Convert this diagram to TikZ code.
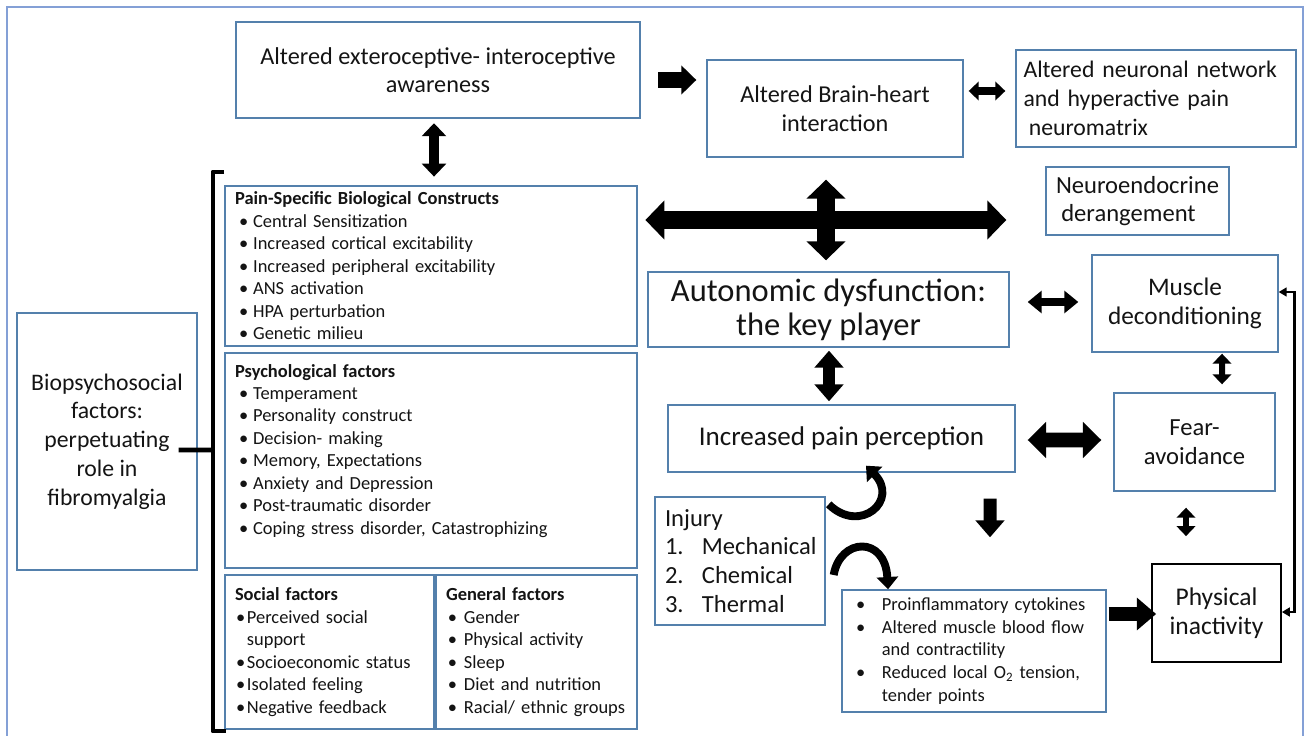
\documentclass[tikz,border=0pt]{standalone}
\usepackage{fontspec}
\setmainfont{Carlito}
\usetikzlibrary{arrows.meta}
\definecolor{boxline}{RGB}{84,128,172}
\definecolor{frameline}{RGB}{132,160,214}
\definecolor{inktext}{RGB}{20,20,20}

\newcommand{\fs}[2]{\fontsize{#1}{#2}\selectfont}
% bullets for the list boxes
\newcommand{\pbul}{\hspace*{2.3pt}\makebox[8pt][l]{\textbullet}}
\newcommand{\sbul}{\hspace*{0.6pt}\makebox[6.2pt][l]{\textbullet}}
\newcommand{\gbul}{\hspace*{1.1pt}\makebox[9.1pt][l]{\textbullet}}
\newcommand{\qbul}{\hspace*{2.3pt}\makebox[14.7pt][l]{\textbullet}}

\begin{document}
\begin{tikzpicture}[x=0.02cm, y=-0.02cm,
  box/.style={draw=boxline, line width=0.8pt, inner sep=0pt, text=inktext, align=center},
  listbox/.style={box, line width=1.6pt, align=left, inner xsep=0.2cm},
  onehead/.style args={#1/#2/#3}{line width=#1, -{Triangle[length=#2,width=#3]}},
  twohead/.style args={#1/#2/#3}{line width=#1, {Triangle[length=#2,width=#3]}-{Triangle[length=#2,width=#3]}},
  curvarr/.style={line width=4.5pt, -{Triangle[length=7pt,width=12pt]}},
  linkarr/.style={line width=1.7pt, {Triangle[length=4.5pt,width=5pt]}-{Triangle[length=4.5pt,width=5pt]}},
  bracket/.style={line width=2.8pt, line join=round}]

  \useasboundingbox (0,0) rectangle (1304,736);
  \fill[white] (0,0) rectangle (1304,736);
  % outer frame
  \draw[frameline, line width=1.2pt] (7,7) rectangle (1303,745);

  % top row
  \node[box, line width=1.4pt, minimum width=8.08cm, minimum height=1.92cm, font=\fs{13.8}{15.9}]
    (extero) at (438,70) {Altered exteroceptive- interoceptive\\awareness};
  \node[box, minimum width=5.12cm, minimum height=1.94cm, font=\fs{13.8}{16.4}]
    (brainheart) at (835,108.5) {Altered Brain-heart\\interaction};
  \node[box, align=left, inner xsep=0.15cm, text width=5.3cm, minimum height=1.94cm, font={\fs{13.5}{16.4}\hyphenpenalty=10000\relax}]
    (neuronal) at (1156,98.5) {Altered neuronal network\\and hyperactive pain\\\hspace*{3pt}neuromatrix};
  \node[box, align=left, minimum width=3.66cm, minimum height=1.36cm, font=\fs{14}{16.4}]
    (neuroendo) at (1137.5,201) {Neuroendocrine\\\hspace*{3pt}derangement};

  % left column
  \node[box, minimum width=3.6cm, minimum height=5.14cm, font=\fs{13.5}{16.4}]
    (biopsy) at (107,441.5) {Biopsychosocial\\factors:\\perpetuating\\role in\\fibromyalgia};
  \node[listbox, text width=7.84cm, minimum height=3.2cm, font=\fs{10.5}{12.8}]
    (painspec) at (431,266) {{\bfseries Pain-Specific Biological Constructs}\\
      \pbul Central Sensitization\\
      \pbul Increased cortical excitability\\
      \pbul Increased peripheral excitability\\
      \pbul ANS activation\\
      \pbul HPA perturbation\\
      \pbul Genetic milieu};
  \node[listbox, text width=7.84cm, minimum height=4.3cm, font=\fs{10.5}{12.8}]
    (psych) at (431,460.5) {{\bfseries Psychological factors}\\
      \pbul Temperament\\
      \pbul Personality construct\\
      \pbul Decision- making\\
      \pbul Memory, Expectations\\
      \pbul Anxiety and Depression\\
      \pbul Post-traumatic disorder\\
      \pbul Coping stress disorder, Catastrophizing\\
      \mbox{}};
  \node[listbox, text width=3.78cm, minimum height=3.08cm, font=\fs{10.5}{12.8}]
    (social) at (329.5,652) {{\bfseries Social factors}\\
      \sbul Perceived social\\
      \hspace*{6.8pt}support\\
      \sbul Socioeconomic status\\
      \sbul Isolated feeling\\
      \sbul Negative feedback};
  \node[listbox, text width=3.62cm, minimum height=3.08cm, font=\fs{10.5}{12.8}]
    (general) at (536.5,652) {{\bfseries General factors}\\
      \gbul Gender\\
      \gbul Physical activity\\
      \gbul Sleep\\
      \gbul Diet and nutrition\\
      \gbul Racial/ ethnic groups};

  % middle and right
  \node[box, minimum width=7.22cm, minimum height=1.5cm, font=\fs{18.5}{19.5}]
    (autonomic) at (828.5,309.5) {Autonomic dysfunction:\\the key player};
  \node[box, minimum width=3.72cm, minimum height=1.94cm, font=\fs{14.4}{16.4}]
    (muscle) at (1185,303.5) {Muscle\\deconditioning};
  \node[box, minimum width=6.94cm, minimum height=1.34cm, font=\fs{15.4}{18}]
    (pain) at (841.5,438.5) {Increased pain perception};
  \node[box, minimum width=3.22cm, minimum height=1.96cm, font=\fs{14}{16.4}]
    (fear) at (1194.5,442) {Fear-\\avoidance};
  \node[box, align=left, inner xsep=0.2cm, text width=3.0cm, minimum height=2.56cm, font=\fs{14}{16.4}]
    (injury) at (740,561) {Injury\\
      \makebox[21pt][l]{1.}Mechanical\\
      \makebox[21pt][l]{2.}Chemical\\
      \makebox[21pt][l]{3.}Thermal};
  \node[box, align=left, inner xsep=0.2cm, text width=4.88cm, minimum height=2.44cm, font=\fs{10.5}{13}]
    (proinfl) at (974,651) {\qbul Proinflammatory cytokines\\
      \qbul Altered muscle blood flow\\
      \hspace*{17pt}and contractility\\
      \qbul Reduced local O\textsubscript{2} tension,\\
      \hspace*{17pt}tender points};
  \node[box, draw=black, line width=1pt, minimum width=2.58cm, minimum height=1.96cm, font=\fs{14.5}{16.4}]
    (physical) at (1216.5,613) {Physical\\inactivity};

  % block arrows
  \draw[onehead=9pt/8.5pt/16pt] ([shift={(17,10)}]extero.east) -- ([shift={(-10,-28.5)}]brainheart.west);
  \draw[twohead=4pt/5.7pt/10.5pt] ([shift={(5,-17.5)}]brainheart.east) -- ([shift={(-10,-7.5)}]neuronal.west);
  \draw[twohead=5.7pt/7.4pt/13.6pt] ([shift={(-4,4)}]extero.south) -- ([shift={(3,-8)}]painspec.north);
  \draw[twohead=10.2pt/10.8pt/21.6pt] ([shift={(7,-46)}]painspec.east) -- ([shift={(-39,19)}]neuroendo.west);
  \draw[twohead=10.2pt/10.8pt/21.6pt] ([shift={(-9,22)}]brainheart.south) -- ([shift={(-2.5,-11)}]autonomic.north);
  \draw[twohead=5pt/8pt/12.5pt] ([shift={(18,-7.5)}]autonomic.east) -- ([shift={(-13,-1.5)}]muscle.west);
  \draw[twohead=6.8pt/9.6pt/16pt] ([shift={(0.5,3)}]autonomic.south) -- ([shift={(-12.5,-3)}]pain.north);
  \draw[twohead=8.5pt/10.5pt/20pt] ([shift={(12,1.5)}]pain.east) -- ([shift={(-12,-2)}]fear.west);
  \draw[onehead=7.4pt/9.6pt/16pt] ([shift={(148.5,26)}]pain.south) -- ([shift={(16,-52)}]proinfl.north);
  \draw[twohead=3.4pt/5.7pt/10.5pt] ([shift={(37,1)}]muscle.south) -- ([shift={(27.5,-8)}]fear.north);
  \draw[twohead=3.4pt/5.7pt/10.5pt] ([shift={(-8.5,16)}]fear.south) -- ([shift={(-30.5,-27)}]physical.north);
  \draw[onehead=8.5pt/11pt/18pt] ([shift={(2,-37)}]proinfl.east) -- ([shift={(5,1)}]physical.west);

  % curved arrows from injury
  \draw[curvarr] ([shift={(3,8)}]injury.north east) .. controls (860,535) and (900,500) .. ([shift={(24.5,-7)}]pain.south);
  \draw[curvarr] ([shift={(8,14)}]injury.east) .. controls (840,538) and (885,535) .. ([shift={(-86,0)}]proinfl.north);

  % feedback link
  \draw[linkarr] ([shift={(0,-1)}]physical.east) -- ++(13,0) |- ([shift={(0,-11.5)}]muscle.east);

  % bracket
  \coordinate (brmid) at (213,450);
  \draw[bracket] (224,172) -- (213,172) -- (213,731) -- (226,731);
  \draw[bracket] ([shift={(-19,8.5)}]biopsy.east) -- (brmid);
\end{tikzpicture}
\end{document}
